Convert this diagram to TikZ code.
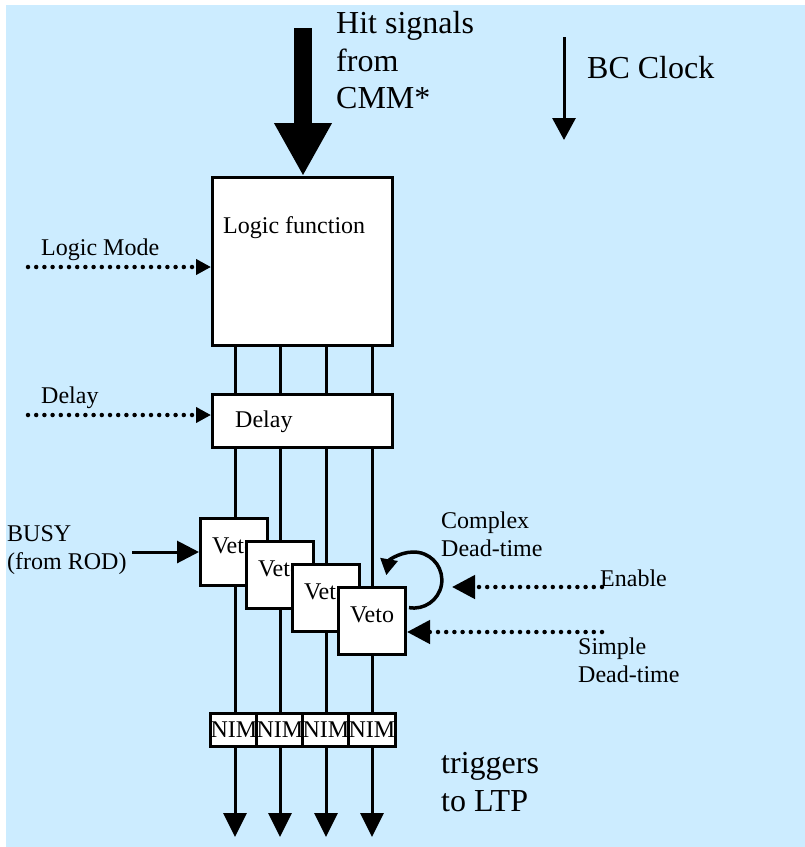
\documentclass[tikz,border=0pt]{standalone}
\usepackage{fontspec}
\setmainfont{LiberationSerif}[Extension=.ttf, UprightFont=*-Regular, BoldFont=*-Bold, ItalicFont=*-Italic, BoldItalicFont=*-BoldItalic]
\usetikzlibrary{arrows.meta}
\definecolor{bgblue}{RGB}{204,236,255}
\begin{document}
\begin{tikzpicture}[x=1pt,y=1pt,
  box/.style={draw, line width=3pt, fill=white, inner sep=0pt},
  sm/.style={font=\fontsize{24}{28}\selectfont, inner sep=0pt},
  lg/.style={font=\fontsize{32}{37.7}\selectfont, inner sep=0pt},
  wire/.style={line width=3pt},
  dotline/.style={line width=4.5pt, line cap=round, dash pattern=on 0pt off 8.2pt},
  tipsmall/.style={-{Triangle[length=15pt,width=15pt]}},
  tipmid/.style={-{Triangle[length=23pt,width=23pt]}},
  vetobox/.style={box, minimum width=67pt, minimum height=67pt, sm, text height=16pt, text depth=14pt},
  nimbox/.style={box, minimum width=46pt, minimum height=33pt, sm, text height=16pt, text depth=0pt}
]
\useasboundingbox (0,0) rectangle (805,-847);
\fill[bgblue] (6,-5) rectangle (805,-847);

% main boxes
\node[box, minimum width=180pt, minimum height=168pt] (logic) at (302.5,-261.5) {};
\node[sm, anchor=base west] (logictext) at (223,-233) {Logic function};
\node[box, minimum width=180pt, minimum height=53pt] (delay) at (302.5,-421) {};
\node[sm, anchor=base west] (delaytext) at (235,-427) {Delay};

% wire x positions
\coordinate (x1) at (235,0);
\coordinate (x2) at (280,0);
\coordinate (x3) at (326,0);
\coordinate (x4) at (372,0);

% NIM boxes
\node[nimbox] (n1) at (234,-729.5) {NIM};
\node[nimbox] (n2) at (280,-729.5) {NIM};
\node[nimbox] (n3) at (326,-729.5) {NIM};
\node[nimbox] (n4) at (372,-729.5) {NIM};

% wires
\foreach \i in {1,2,3,4}{
  \draw[wire] (logic.south -| x\i) -- (delay.north -| x\i);
  \draw[wire] (delay.south -| x\i) -- (n\i.north -| x\i);
}
% NIM boxes on top of wires
\node[nimbox] at (n1) {NIM};
\node[nimbox] at (n2) {NIM};
\node[nimbox] at (n3) {NIM};
\node[nimbox] at (n4) {NIM};

% veto boxes
\node[vetobox] (v1) at (234,-552) {Veto};
\node[vetobox] (v2) at (280,-575) {Veto};
\node[vetobox] (v3) at (326,-598) {Veto};
\node[vetobox] (v4) at (372,-621) {Veto};

% output arrows
\coordinate (o1) at (235,-837);
\coordinate (o2) at (280,-837);
\coordinate (o3) at (326,-837);
\coordinate (o4) at (372,-837);
\foreach \i in {1,2,3,4}{
  \draw[wire, -{Triangle[length=24pt,width=23pt]}] (n\i.south -| o\i) -- (o\i);
}

% big input arrow
\coordinate (hitstart) at (303,-28);
\draw[line width=18pt, -{Triangle[length=53pt,width=54pt]}] (hitstart) -- (hitstart |- logic.north);

% BC clock arrow
\coordinate (bcstart) at (564,-37);
\coordinate (bcend) at (564,-140);
\draw[wire, -{Triangle[length=22pt,width=23pt]}] (bcstart) -- (bcend);

% dotted control inputs
\coordinate (lmstart) at (28,-267);
\draw[dotline, tipsmall] (lmstart) -- (lmstart -| logic.west);
\coordinate (dlstart) at (28,-415);
\draw[dotline, tipsmall] (dlstart) -- (dlstart -| delay.west);

% BUSY
\coordinate (busystart) at (132,-552);
\draw[wire, -{Triangle[length=22pt,width=22pt]}] (busystart) -- (v1.west);

% Enable and Simple dead-time
\coordinate (enstart) at (602,-587);
\coordinate (entip) at (452,-587);
\draw[dotline, tipmid] (enstart) -- (entip);
\coordinate (simstart) at (602,-632);
\draw[dotline, tipmid] (simstart) -- (simstart -| v4.east);

% complex dead-time loop
\coordinate (cstart) at (409,-607.6);
\draw[line width=3.5pt, -{Triangle[length=16pt,width=17pt]}] (cstart) arc[start angle=-100, end angle=170, radius=28];

% labels
\node[lg, anchor=north west, align=left] (hitlabel) at (336,-11) {Hit signals\\from\\CMM*};
\node[lg, anchor=base west] (bclabel) at (587,-78) {BC Clock};
\node[sm, anchor=base west] (lmlabel) at (41,-255) {Logic Mode};
\node[sm, anchor=base west] (dllabel) at (41,-403) {Delay};
\node[sm, anchor=north west, align=left] (busylabel) at (7,-525) {BUSY\\(from ROD)};
\node[sm, anchor=north west, align=left] (cplabel) at (441,-511.6) {Complex\\Dead-time};
\node[sm, anchor=base west] (enlabel) at (600,-586) {Enable};
\node[sm, anchor=north west, align=left] (simlabel) at (578,-637.6) {Simple\\Dead-time};
\node[lg, anchor=north west, align=left] (trglabel) at (441,-752) {triggers\\to LTP};
\end{tikzpicture}
\end{document}
